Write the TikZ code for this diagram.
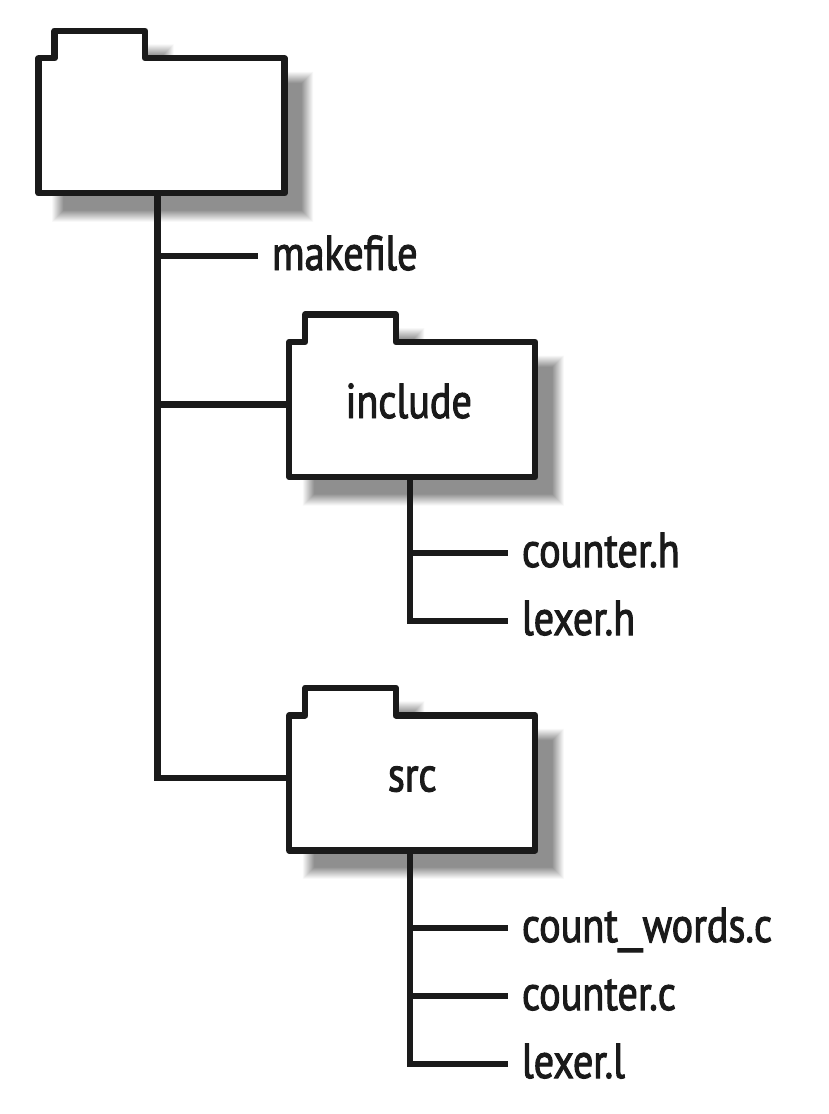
\documentclass[tikz,border=0pt]{standalone}
\usepackage{fontspec}
\setmainfont[FakeStretch=0.82,FakeBold=2]{PT Sans}
\definecolor{inkblack}{RGB}{26,26,26}
% folder outline, pushed out or pulled in by #1
\newcommand{\folderpath}[1]{({-123-#1},{-67.5-#1}) -- ({-107-#1},{-67.5-#1}) -- ({-107-#1},{-95-#1}) -- ({-16.5+#1},{-95-#1}) -- ({-16.5+#1},{-67.5-#1}) -- ({123+#1},{-67.5-#1}) -- ({123+#1},{67.5+#1}) -- ({-123-#1},{67.5+#1}) -- cycle}
\tikzset{
  conn/.style={line width=6.3pt,draw=inkblack},
  outline/.style={conn,fill=white,line join=round},
  labeltext/.style={font=\fontsize{49}{49}\selectfont,text=inkblack,text height=34pt,text depth=6pt,inner ysep=0pt,outer sep=0pt},
  filelabel/.style={labeltext,anchor=west,inner xsep=14pt},
  folderbox/.style={labeltext,text height=30pt,text depth=13pt,minimum width=252.3pt,minimum height=141.3pt,inner sep=0pt}
}
% folder with its blurred shadow: name, x, y, text
\newcommand{\drawfolder}[4]{
  \foreach \d in {8,7.5,...,-4}{
    \pgfmathsetmacro{\shade}{44*(8-\d)/12}
    \fill[shift={(#2+21,#3+21)},black!\shade] \folderpath{\d};
  }
  \draw[shift={(#2,#3)},outline] \folderpath{0};
  \node[folderbox] (#1) at (#2,#3) {#4};
}
\begin{document}
\begin{tikzpicture}[x=1pt,y=-1pt]
\useasboundingbox (0,0) rectangle (828,1114);
% folders
\drawfolder{root}{161.6}{125.8}{}
\drawfolder{include}{412.3}{409.5}{include\kern7pt}
\drawfolder{src}{412.3}{782.9}{src}

% file names
\node[filelabel] (makefile) at (258,256) {makefile};
\node[filelabel] (counterh) at (508,553) {counter.h};
\node[filelabel] (lexerh) at (508,621) {lexer.h};
\node[filelabel] (countwords) at (508,928) {count\scalebox{1.5}[1]{\_}words.c};
\node[filelabel] (counterc) at (508,996) {counter.c};
\node[filelabel] (lexerl) at (508,1064) {lexer.l};

% branches
\coordinate (roottrunk) at ([xshift=-4pt]root.south);
\coordinate (inctrunk) at ([xshift=-2pt]include.south);
\coordinate (srctrunk) at ([xshift=-2pt]src.south);
\coordinate (incjoin) at ([yshift=5pt]include.west);
\coordinate (srcjoin) at ([yshift=5pt]src.west);

\draw[conn] (roottrunk) |- (srcjoin);
\draw[conn] (roottrunk |- makefile.west) -- (makefile.west);
\draw[conn] (roottrunk |- incjoin) -- (incjoin);

\draw[conn] (inctrunk) |- (lexerh.west);
\draw[conn] (inctrunk |- counterh.west) -- (counterh.west);

\draw[conn] (srctrunk) |- (lexerl.west);
\draw[conn] (srctrunk |- countwords.west) -- (countwords.west);
\draw[conn] (srctrunk |- counterc.west) -- (counterc.west);
\end{tikzpicture}
\end{document}
